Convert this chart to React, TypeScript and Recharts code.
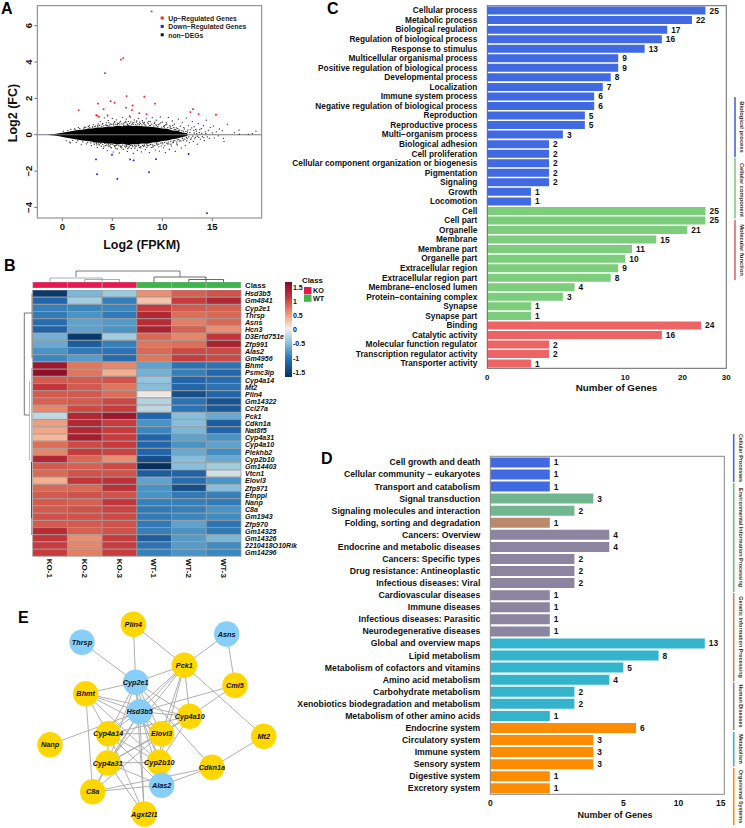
import React from "react";
import {
  Area,
  Bar,
  BarChart,
  Cell,
  ComposedChart,
  LabelList,
  ReferenceLine,
  Scatter,
  ScatterChart,
  XAxis,
  YAxis,
} from "recharts";

const FONT = "'Liberation Sans', Arial, sans-serif";

// ---- panel A: MA plot
const coreX = [-1.4, -0.8, -0.3, 0.3, 1, 1.6, 2, 2.6, 3, 3.5, 4, 4.6, 5, 5.5, 6, 6.6, 7, 7.5, 8, 8.5, 9, 9.5, 10, 10.5, 11, 11.5, 12, 12.5];
const coreHigh = [0.02, 0.04, 0.08, 0.14, 0.2, 0.26, 0.28, 0.34, 0.34, 0.4, 0.4, 0.46, 0.44, 0.5, 0.47, 0.52, 0.48, 0.5, 0.47, 0.46, 0.42, 0.4, 0.34, 0.33, 0.24, 0.22, 0.12, 0.08];
const coreLow = [-0.02, -0.04, -0.08, -0.15, -0.22, -0.27, -0.32, -0.35, -0.38, -0.44, -0.44, -0.49, -0.48, -0.53, -0.5, -0.56, -0.52, -0.52, -0.48, -0.49, -0.42, -0.41, -0.35, -0.32, -0.25, -0.21, -0.13, -0.07];
const upGenes = [
  [8.93, 6.79], [6.1, 4.22], [5.87, 4.13], [4.27, 3.39], [6.43, 2.13], [8.2, 2.09], [4.83, 1.85], [5.23, 1.76], [3.57, 1.71],
  [9.27, 1.71], [7.03, 1.61], [6.37, 1.49], [4.13, 1.41], [13.07, 1.41], [1.63, 1.36], [6.97, 1.36], [12.8, 1.25], [7.7, 1.19],
  [8.43, 1.14], [13.63, 1.14], [15.37, 1.1], [3.4, 1.08], [3.47, 1.05], [4.53, 1.06], [3.67, 0.99], [6.73, 1.03],
];
const downGenes = [
  [3.37, -1.36], [4.97, -1.1], [6.77, -1.36], [7.13, -1.41], [9.37, -1.34], [12.63, -1.06], [3.47, -2.17], [5.5, -2.42], [8.67, -2.06], [14.47, -4.31],
];
const otherGenes = [
  [0.1, 0.2], [0.4, -0.33], [0.8, -0.45], [0.7, -0.4], [1.2, 0.33], [1.4, -0.42], [1.6, 0.4], [1.9, -0.55], [2.2, 0.42], [2.4, -0.5],
  [2.6, 0.45], [2.7, 0.5], [2.9, -0.6], [3.1, 0.55], [3.2, -0.52], [3.3, 0.47], [3.5, -0.7], [3.6, 0.6], [3.7, -0.56], [3.8, 0.72],
  [3.9, -0.63], [4.0, 0.58], [4.1, -0.75], [4.2, 0.93], [4.3, -0.6], [4.4, 0.66], [4.5, -0.88], [4.6, 0.78], [4.7, -0.62], [4.8, 0.6],
  [4.9, -0.72], [5.0, 0.9], [5.1, -0.95], [5.2, 0.68], [5.3, -0.6], [5.4, 0.82], [5.5, -0.78], [5.6, 0.62], [5.7, -1.0], [5.8, 0.74],
  [5.9, -0.64], [6.0, 0.95], [6.1, -0.8], [6.2, 0.66], [6.3, -0.68], [6.4, 0.86], [6.5, -0.92], [6.6, 0.72], [6.7, -0.62], [6.8, 0.97],
  [6.9, -0.75], [7.0, 0.64], [7.1, -1.02], [7.2, 0.82], [7.3, -0.66], [7.4, 0.7], [7.5, -0.86], [7.6, 0.9], [7.7, -0.7], [7.8, 0.62],
  [7.9, -0.94], [8.0, 0.78], [8.1, -0.64], [8.2, 0.68], [8.3, -0.82], [8.4, 0.88], [8.5, -0.6], [8.6, 0.6], [8.7, -0.98], [8.8, 0.72],
  [8.9, -0.7], [9.0, 0.94], [9.1, -0.62], [9.2, 0.62], [9.3, -0.84], [9.4, 0.8], [9.5, -0.56], [9.6, 0.56], [9.7, -0.9], [9.8, 0.98],
  [9.9, -0.62], [10.0, 0.7], [10.1, -0.72], [10.2, 0.5], [10.3, -0.98], [10.4, 0.66], [10.5, -0.5], [10.6, 0.96], [10.7, -0.8], [10.8, 0.44],
  [10.9, -0.62], [11.0, 0.76], [11.1, -0.42], [11.2, 0.58], [11.3, -0.92], [11.4, 0.38], [11.5, -0.56], [11.6, 0.86], [11.7, -0.34], [11.8, 0.48],
  [11.9, -0.72], [12.0, 0.66], [12.1, -0.3], [12.2, 0.32], [12.3, -0.6], [12.4, 0.92], [12.5, -0.22], [12.6, 0.5], [12.7, -0.44], [12.8, 0.28],
  [12.9, -0.18], [13.0, 0.72], [13.1, -0.36], [13.2, 0.44], [13.3, -0.14], [13.4, 0.2], [13.5, -0.52], [13.6, 0.62], [13.7, 0.12], [13.8, -0.24],
  [13.9, 0.34], [14.0, -0.1], [14.1, 0.5], [14.2, -0.32], [14.3, 0.16], [14.4, 0.8], [14.5, -0.12], [14.6, 0.24], [14.7, -0.2], [14.8, 0.4],
  [15.0, 0.1], [15.1, 0.48], [15.2, -0.18], [15.4, 0.16], [15.6, -0.06], [15.7, 0.32], [16.0, 0.22], [16.1, -0.2], [16.17, -0.37], [16.5, 0.57],
  [17.2, 0.11], [17.67, 0.26], [17.7, 0.03], [19.0, 0.07], [19.37, 0.2], [18.6, 0.02],
  [3.0, 0.44], [4.4, 0.52], [5.1, 0.6], [5.5, 0.56], [6.1, 0.6], [6.5, 0.58], [7.1, 0.58], [7.7, 0.56], [8.2, 0.55], [8.8, 0.52], [9.4, 0.5],
  [4.6, -0.55], [5.2, -0.6], [5.8, -0.62], [6.4, -0.6], [7.0, -0.6], [7.6, -0.6], [8.2, -0.56], [8.8, -0.54], [9.4, -0.5], [10.0, -0.44], [10.6, -0.4],
  [10.2, 0.42], [10.8, 0.36], [11.2, 0.3], [11.6, 0.24], [12.1, 0.2], [12.5, 0.14], [11.1, -0.34], [11.5, -0.28], [12.0, -0.22], [12.4, -0.16], [13.2, 0.1], [13.5, -0.08],
  // fringe hugging the dense cloud
  [0.55, 0.24], [0.85, 0.3], [1.05, -0.31], [1.3, 0.28], [1.55, -0.33], [1.75, 0.34], [2.05, -0.39], [2.15, 0.36], [2.35, 0.41], [2.55, -0.42], [2.75, 0.39],
  [2.85, -0.45], [3.05, 0.42], [3.15, -0.41], [3.25, 0.44], [3.4, -0.47], [3.55, 0.47], [3.65, -0.5], [3.75, 0.52], [3.85, -0.47], [3.95, 0.46], [4.05, -0.53],
  [4.15, 0.49], [4.25, -0.48], [4.35, 0.55], [4.45, -0.57], [4.55, 0.51], [4.65, -0.62], [4.75, 0.53], [4.85, -0.54], [4.95, 0.57], [5.05, -0.52], [5.15, 0.54],
  [5.25, -0.65], [5.35, 0.58], [5.45, -0.57], [5.55, 0.64], [5.65, -0.6], [5.75, 0.55], [5.85, -0.68], [5.95, 0.6], [6.05, -0.57], [6.15, 0.52], [6.25, -0.62],
  [6.35, 0.66], [6.45, -0.64], [6.55, 0.56], [6.65, -0.7], [6.75, 0.61], [6.85, -0.6], [6.95, 0.55], [7.05, -0.66], [7.15, 0.68], [7.25, -0.58], [7.35, 0.56],
  [7.45, -0.62], [7.55, 0.6], [7.65, -0.56], [7.75, 0.7], [7.85, -0.65], [7.95, 0.54], [8.05, -0.58], [8.15, 0.62], [8.25, -0.62], [8.35, 0.53], [8.45, -0.55],
  [8.55, 0.66], [8.65, -0.6], [8.75, 0.5], [8.85, -0.52], [8.95, 0.58], [9.05, -0.56], [9.15, 0.48], [9.25, -0.6], [9.35, 0.55], [9.45, -0.48], [9.55, 0.45],
  [9.65, -0.52], [9.75, 0.6], [9.85, -0.46], [9.95, 0.42], [10.05, -0.5], [10.15, 0.46], [10.25, -0.42], [10.35, 0.54], [10.45, -0.46], [10.55, 0.4], [10.65, -0.5],
  [10.75, 0.5], [10.85, -0.36], [10.95, 0.34], [11.05, -0.44], [11.15, 0.4], [11.25, -0.32], [11.35, 0.28], [11.45, -0.4], [11.55, 0.34], [11.65, -0.26], [11.75, 0.26],
  [11.85, -0.34], [11.95, 0.22], [12.05, -0.18], [12.15, 0.4], [12.25, -0.24], [12.35, 0.18], [12.45, -0.34], [12.55, 0.26], [12.65, -0.12], [12.75, 0.12],
  [12.85, -0.26], [12.95, 0.38], [13.05, -0.08], [13.15, 0.24], [13.25, -0.22], [13.35, 0.3], [13.45, 0.06], [13.65, -0.14], [13.75, 0.28], [13.95, 0.08], [14.15, -0.16], [14.35, 0.06],
  [3.55, 0.53], [4.05, 0.62], [4.65, 0.66], [5.25, 0.73], [5.75, 0.66], [6.35, 0.74], [6.85, 0.71], [7.45, 0.76], [8.05, 0.69], [8.65, 0.74], [9.25, 0.7], [9.85, 0.66], [10.45, 0.58], [11.05, 0.5],
  [3.45, -0.56], [4.15, -0.66], [4.85, -0.68], [5.35, -0.74], [5.95, -0.72], [6.55, -0.76], [7.25, -0.74], [7.85, -0.72], [8.45, -0.7], [9.05, -0.68], [9.65, -0.66], [10.25, -0.6], [10.85, -0.52], [11.45, -0.5],
];

// ---- panel B: heatmap
const genes = [
  "Hsd3b5", "Gm4841", "Cyp2e1", "Thrsp", "Asns", "Hcn3", "D3Ertd751e", "Zfp991", "Alas2", "Gm4956", "Bhmt", "Psmc3ip", "Cyp4a14",
  "Mt2", "Plin4", "Gm14322", "Ccl27a", "Pck1", "Cdkn1a", "Nat8f5", "Cyp4a31", "Cyp4a10", "Plekhb2", "Cyp2b10", "Gm14403", "Vtcn1",
  "Elovl3", "Zfp971", "Etnppl", "Nanp", "C8a", "Gm1943", "Zfp970", "Gm14325", "Gm14326", "2210418O10Rik", "Gm14296",
];
const samples = ["KO-1", "KO-2", "KO-3", "WT-1", "WT-2", "WT-3"];
const heat = [
  [-1.7, -0.6, -0.45, 0.65, 0.95, 1.05],
  [-1.2, -0.4, -1.0, 0.3, 1.2, 1.4],
  [-1.0, -0.95, -0.95, 1.2, 1.0, 0.95],
  [-1.05, -0.85, -1.05, 1.4, 0.85, 0.9],
  [-1.15, -0.75, -0.8, 1.35, 0.75, 0.9],
  [-1.25, -0.75, -0.85, 1.45, 0.95, 0.65],
  [-0.65, -1.7, -0.4, 0.9, 0.7, 1.25],
  [-0.7, -1.3, -1.0, 0.8, 0.85, 1.45],
  [-0.85, -1.05, -1.1, 0.9, 1.1, 1.1],
  [-0.95, -0.8, -1.15, 0.8, 1.2, 1.1],
  [1.55, 0.8, 0.7, -0.75, -1.1, -1.1],
  [1.65, 0.8, 0.45, -0.65, -1.0, -1.2],
  [1.0, 1.0, 1.05, -0.5, -1.2, -1.15],
  [1.25, 1.0, 0.8, -0.55, -1.2, -1.1],
  [1.0, 1.0, 0.85, 0.0, -1.45, -1.2],
  [0.95, 1.0, 1.1, -0.3, -1.1, -1.4],
  [0.7, 1.1, 1.2, -0.25, -1.1, -1.35],
  [-0.25, 1.4, 1.55, -1.2, -0.55, -0.7],
  [0.55, 1.4, 1.2, -0.85, -0.55, -1.3],
  [0.5, 1.4, 1.2, -0.95, -0.6, -1.2],
  [0.4, 1.5, 1.2, -1.2, -0.75, -0.85],
  [0.85, 1.1, 1.2, -1.2, -0.85, -0.75],
  [0.7, 1.2, 1.15, -1.2, -0.7, -0.9],
  [1.4, 0.9, 0.65, -1.45, -0.55, -0.7],
  [1.0, 0.95, 1.1, -1.8, -0.55, -0.4],
  [0.9, 1.05, 1.05, -1.3, -1.25, -0.15],
  [0.45, 1.25, 1.3, -0.75, -1.15, -0.85],
  [0.9, 0.9, 1.3, -0.85, -1.45, -0.55],
  [1.0, 1.05, 1.05, -0.85, -1.05, -1.0],
  [1.0, 0.95, 1.25, -1.0, -1.0, -1.05],
  [1.0, 1.05, 1.15, -1.05, -1.0, -0.85],
  [1.05, 1.05, 1.1, -1.05, -0.95, -0.9],
  [1.0, 1.0, 1.05, -1.05, -0.75, -1.1],
  [1.35, 0.95, 1.05, -1.0, -0.85, -1.05],
  [1.25, 0.65, 1.2, -1.3, -0.8, -0.6],
  [1.2, 0.7, 1.2, -1.1, -0.8, -0.9],
  [1.2, 0.75, 1.2, -1.0, -0.85, -0.95],
];
const colorbarTicks = [1.5, 1, 0.5, 0, -0.5, -1, -1.5];

// ---- panel C: GO terms
const goTerms = [
  "Cellular process", "Metabolic process", "Biological regulation", "Regulation of biological process", "Response to stimulus",
  "Multicellular organismal process", "Positive regulation of biological process", "Developmental process", "Localization",
  "Immune system process", "Negative regulation of biological process", "Reproduction", "Reproductive process", "Multi\u2212organism process",
  "Biological adhesion", "Cell proliferation", "Cellular component organization or biogenesis", "Pigmentation", "Signaling", "Growth", "Locomotion",
  "Cell", "Cell part", "Organelle", "Membrane", "Membrane part", "Organelle part", "Extracellular region", "Extracellular region part",
  "Membrane\u2212enclosed lumen", "Protein\u2212containing complex", "Synapse", "Synapse part",
  "Binding", "Catalytic activity", "Molecular function regulator", "Transcription regulator activity", "Transporter activity",
];
const goCounts = [25, 22, 17, 16, 13, 9, 9, 8, 7, 6, 6, 5, 5, 3, 2, 2, 2, 2, 2, 1, 1, 25, 25, 21, 15, 11, 10, 9, 8, 4, 3, 1, 1, 24, 16, 2, 2, 1];
const goGroupSizes = [21, 12, 5];
const goColors = ["#4169E1", "#7CCD7C", "#EE6363"];

// ---- panel D: KEGG pathways
const keggTerms = [
  "Cell growth and death", "Cellular community \u2212 eukaryotes", "Transport and catabolism", "Signal transduction",
  "Signaling molecules and interaction", "Folding, sorting and degradation", "Cancers: Overview", "Endocrine and metabolic diseases",
  "Cancers: Specific types", "Drug resistance: Antineoplastic", "Infectious diseases: Viral", "Cardiovascular diseases", "Immune diseases",
  "Infectious diseases: Parasitic", "Neurodegenerative diseases", "Global and overview maps", "Lipid metabolism",
  "Metabolism of cofactors and vitamins", "Amino acid metabolism", "Carbohydrate metabolism", "Xenobiotics biodegradation and metabolism",
  "Metabolism of other amino acids", "Endocrine system", "Circulatory system", "Immune system", "Sensory system", "Digestive system", "Excretory system",
];
const keggCounts = [1, 1, 1, 3, 2, 1, 4, 4, 2, 2, 2, 1, 1, 1, 1, 13, 8, 5, 4, 2, 2, 1, 6, 3, 3, 3, 1, 1];
const keggGroupSizes = [3, 2, 1, 9, 7, 6];
const keggColors = ["#4169E1", "#70B78F", "#BC8A6A", "#8B859F", "#33B3CC", "#FF8C00"];

// ---- panel E: network
const nodeNames = [
  "Plin4", "Thrsp", "Asns", "Pck1", "Cyp2e1", "Cml5", "Bhmt", "Hsd3b5", "Cyp4a10", "Cyp4a14", "Elovl3", "Nanp", "Mt2", "Cyp4a31",
  "Cyp2b10", "Cdkn1a", "Alas2", "C8a", "Agxt2l1",
];
const nodeX = [133.3, 82, 226.7, 184.3, 135.7, 235, 85.7, 139.7, 189.7, 108.3, 161.7, 50, 263.7, 107.7, 159.3, 212, 161.7, 92.7, 144.3];
const nodeY = [624.3, 642.3, 634, 665.3, 682.3, 685.3, 693.7, 711.7, 716.3, 733.7, 733.7, 744.7, 736.3, 763, 762.3, 767.3, 785.3, 791.7, 814];
const blueNodes = ["Thrsp", "Asns", "Cyp2e1", "Hsd3b5", "Alas2"];
const edges = [
  "Thrsp-Cyp2e1", "Plin4-Cyp2e1", "Plin4-Pck1", "Asns-Pck1", "Asns-Cml5", "Pck1-Mt2", "Pck1-Cyp2e1", "Pck1-Hsd3b5", "Pck1-Cyp4a10", "Pck1-Elovl3",
  "Pck1-Cyp4a14", "Pck1-Cyp4a31", "Pck1-Cyp2b10", "Cml5-Cyp4a10", "Cml5-Hsd3b5", "Bhmt-Cyp2e1", "Bhmt-Hsd3b5", "Bhmt-C8a", "Bhmt-Cyp4a14",
  "Bhmt-Cyp4a10", "Bhmt-Elovl3", "Bhmt-Cyp2b10", "Nanp-Hsd3b5", "Cyp2e1-Hsd3b5", "Cyp2e1-Cdkn1a", "Cyp2e1-Cyp4a14", "Cyp2e1-Cyp4a31",
  "Cyp2e1-Cyp4a10", "Cyp2e1-Elovl3", "Cyp2e1-Cyp2b10", "Cyp2e1-Agxt2l1", "Hsd3b5-Cyp4a10", "Hsd3b5-Cyp4a14", "Hsd3b5-Cyp4a31", "Hsd3b5-Elovl3",
  "Hsd3b5-Cyp2b10", "Hsd3b5-Alas2", "Hsd3b5-Agxt2l1", "Hsd3b5-C8a", "Cyp4a10-Cyp4a14", "Cyp4a10-Cyp4a31", "Cyp4a10-Cyp2b10", "Cyp4a10-Elovl3",
  "Cyp4a14-Elovl3", "Cyp4a14-Cyp4a31", "Cyp4a14-Cyp2b10", "Cyp4a14-Alas2", "Cyp4a14-Agxt2l1", "Cyp4a31-Elovl3", "Cyp4a31-Cyp2b10", "Cyp4a31-C8a",
  "Cyp4a31-Alas2", "Cyp4a31-Agxt2l1", "Elovl3-Cyp2b10", "Elovl3-C8a", "Cdkn1a-Mt2", "Cdkn1a-Alas2", "Cdkn1a-C8a", "Alas2-C8a",
];

// side brackets and dendrogram lines are annotation, not data marks
const goBrackets = [
  { label: "Biological process", y1: 97, y2: 157, color: "#4169E1", cy: 127 },
  { label: "Cellular component", y1: 158, y2: 218.5, color: "#7CCD7C", cy: 190 },
  { label: "Molecular function", y1: 220, y2: 280, color: "#EE6363", cy: 250 },
];
const keggBrackets = [
  { label: "Cellular Processes", y1: 434, y2: 482, color: "#4169E1", cy: 458 },
  { label: "Environmental Information Processing", y1: 483, y2: 592, color: "#70B78F", cy: 537.5 },
  { label: "Genetic Information Processing", y1: 593, y2: 681.5, color: "#BC8A6A", cy: 637 },
  { label: "Human Diseases", y1: 682.5, y2: 730, color: "#8B859F", cy: 706 },
  { label: "Metabolism", y1: 732, y2: 766.5, color: "#33B3CC", cy: 749 },
  { label: "Organismal Systems", y1: 768, y2: 825, color: "#FF8C00", cy: 796.5 },
];
const dendroPaths = [
  { d: "M50 282V278H102V282M84.7 282V279.5H119.4V282", stroke: "#999" },
  { d: "M154 282V277H206V282M188.8 282V279.5H223.5V282", stroke: "#444" },
  { d: "M76 277V271H180V277", stroke: "#555" },
  { d: "M32 313H24.3V415H29.5", stroke: "#555" },
  { d: "M32 293V358", stroke: "#77685f" },
  { d: "M31.5 368V462M29.5 381V460", stroke: "#aaa" },
  { d: "M31.5 462V518", stroke: "#222" },
  { d: "M31.5 518V535", stroke: "#888" },
];

const hexToRgb = (h: string) => [1, 3, 5].map((i) => parseInt(h.slice(i, i + 2), 16));
const heatStops: [number, string][] = [
  [-1.8, "#053061"],
  [-1.2, "#2166ac"],
  [-0.9, "#3f8dc3"],
  [-0.5, "#92c5de"],
  [0, "#eee8e4"],
  [0.4, "#f7b799"],
  [0.8, "#e0775c"],
  [1.2, "#c93a3c"],
  [1.8, "#800022"],
];
const heatColor = (v: number) => {
  for (let i = 1; i < heatStops.length; i++) {
    if (v <= heatStops[i][0]) {
      const [a, ca] = heatStops[i - 1];
      const [b, cb] = heatStops[i];
      const t = Math.max(0, (v - a) / (b - a));
      const A = hexToRgb(ca);
      const B = hexToRgb(cb);
      return `rgb(${A.map((c, k) => Math.round(c + (B[k] - c) * t)).join(",")})`;
    }
  }
  return heatStops[heatStops.length - 1][1];
};

const toPoints = (pairs: number[][]) => pairs.map(([x, y]) => ({ x, y }));
const coreData = coreX.map((x, i) => ({ x, band: [coreLow[i], coreHigh[i]] }));
const heatRows = genes.map((gene) => ({ gene, c0: 1, c1: 1, c2: 1, c3: 1, c4: 1, c5: 1 }));
const classRow = [{ gene: "Class", c0: 1, c1: 1, c2: 1, c3: 1, c4: 1, c5: 1 }];
const columns = ["c0", "c1", "c2", "c3", "c4", "c5"];
const nodes = nodeNames.map((name, i) => ({ name, x: nodeX[i], y: nodeY[i] }));
const nodeByName = (name: string) => nodes.find((n) => n.name === name);

const groupColor = (index: number, sizes: number[], colors: string[]) => {
  let end = 0;
  for (let g = 0; g < sizes.length; g++) {
    end += sizes[g];
    if (index < end) return colors[g];
  }
  return colors[colors.length - 1];
};

const dot = (fill: string, size: number) => (p: any) =>
  <rect x={p.cx - size / 2} y={p.cy - size / 2} width={size} height={size} rx={size / 3} fill={fill} />;

const NetworkNode = (p: any) => {
  const blue = blueNodes.includes(p.payload.name);
  return (
    <g>
      <circle cx={p.cx} cy={p.cy} r={12.7} fill={blue ? "#87CEFA" : "#FFD700"} />
      <text x={p.cx} y={p.cy + 2.6} textAnchor="middle" fontFamily={FONT} fontSize={7.3} fontWeight="bold" fontStyle="italic" fill="#111">
        {p.payload.name}
      </text>
    </g>
  );
};

const boldTick = (size: number) => ({ fontFamily: FONT, fontSize: size, fontWeight: "bold", fill: "#111" });

// plain <text> ticks: the default tick wraps long names over two lines
const TermTick = (font: number) => (p: any) => (
  <text x={p.x} y={p.y + font * 0.35} textAnchor="end" {...boldTick(font)}>
    {p.payload.value}
  </text>
);
const GeneTick = (p: any) => (
  <text x={245} y={p.y + 2.6} fontStyle="italic" {...boldTick(7.1)}>
    {p.payload.value}
  </text>
);

const TermChart = ({ left, top, width, height, terms, counts, sizes, colors, domain, ticks, axisWidth, font, numberFont, plotTop, bottom }: any) => {
  const data = terms.map((term: string, i: number) => ({ term, count: counts[i] }));
  return (
    <div style={{ position: "absolute", left, top }}>
      <BarChart width={width} height={height} data={data} layout="vertical" barCategoryGap="9%" margin={{ top: plotTop, right: 14, bottom: 0, left: 0 }}>
        <XAxis type="number" scale="sqrt" domain={domain} ticks={ticks} height={bottom} axisLine={false} tickLine={false} tick={boldTick(numberFont)} tickMargin={0} interval={0} />
        <YAxis type="category" dataKey="term" width={axisWidth} axisLine={false} tickLine={false} tick={TermTick(font)} tickMargin={4} interval={0} />
        <Bar dataKey="count" isAnimationActive={false}>
          {data.map((d: any, i: number) => (
            <Cell key={d.term} fill={groupColor(i, sizes, colors)} />
          ))}
          <LabelList dataKey="count" position="right" offset={4} style={boldTick(8.4)} />
        </Bar>
      </BarChart>
    </div>
  );
};

const sideLabels = (brackets: any[], lineX: number, textX: number, size: number) =>
  brackets.map((b) => (
    <g key={b.label}>
      <line x1={lineX} x2={lineX} y1={b.y1} y2={b.y2} stroke={b.color} strokeWidth={1.6} />
      <text transform={`translate(${textX} ${b.cy}) rotate(90)`} textAnchor="middle" fontFamily={FONT} fontSize={size} fontWeight="bold" fill="#333">
        {b.label}
      </text>
    </g>
  ));

const letter = (t: string, x: number, y: number) => (
  <text x={x} y={y} fontFamily={FONT} fontSize={16} fontWeight="bold" fill="#000">
    {t}
  </text>
);

export default function App() {
  return (
    <div style={{ position: "absolute", left: 0, top: 0, width: 745, height: 828, background: "#fff", overflow: "hidden" }}>
      {/* A */}
      <div style={{ position: "absolute", left: 0, top: 0 }}>
        <ComposedChart width={275} height={238} data={coreData} margin={{ top: 5.7, right: 13.3, bottom: 0, left: 0 }}>
          <XAxis dataKey="x" type="number" domain={[-2.5, 19.94]} ticks={[0, 5, 10, 15]} height={20} axisLine={false} tickSize={3} stroke="#777" tick={boldTick(9.5)} allowDataOverflow />
          <YAxis
            type="number"
            domain={[-4.58, 7.1]}
            ticks={[-4, -2, 0, 2, 4, 6]}
            width={37.3}
            axisLine={false}
            tickSize={3}
            tickMargin={6}
            stroke="#777"
            angle={-90}
            tick={{ ...boldTick(9.5), textAnchor: "middle" }}
            tickFormatter={(v: number) => String(v).replace("-", "\u2212")}
            allowDataOverflow
          />
          <ReferenceLine y={0} stroke="#777" strokeWidth={1} />
          <Area dataKey="band" type="linear" stroke="none" fill="#000" fillOpacity={1} isAnimationActive={false} dot={false} activeDot={false} />
          <Scatter data={toPoints(otherGenes)} dataKey="y" shape={dot("#222", 1.2)} isAnimationActive={false} />
          <Scatter data={toPoints(upGenes)} dataKey="y" shape={dot("#ff2020", 1.8)} isAnimationActive={false} />
          <Scatter data={toPoints(downGenes)} dataKey="y" shape={dot("#2020ff", 1.8)} isAnimationActive={false} />
        </ComposedChart>
      </div>

      {/* B */}
      <div style={{ position: "absolute", left: 0, top: 282 }}>
        <BarChart width={320} height={5.6} data={classRow} layout="vertical" barCategoryGap={0} margin={{ top: 0, right: 0, bottom: 0, left: 32.7 }}>
          <XAxis type="number" domain={[0, 6]} hide />
          <YAxis type="category" dataKey="gene" orientation="right" width={79} axisLine={false} tickLine={false} tick={false} />
          {columns.map((c, j) => (
            <Bar key={c} dataKey={c} stackId="row" fill={j < 3 ? "#E8174F" : "#3CB54A"} stroke="#aaa" strokeWidth={0.6} isAnimationActive={false} />
          ))}
        </BarChart>
      </div>
      <div style={{ position: "absolute", left: 0, top: 289.7 }}>
        <BarChart width={320} height={292} data={heatRows} layout="vertical" barCategoryGap={0} margin={{ top: 0, right: 0, bottom: 0, left: 32.7 }}>
          <XAxis
            type="number"
            domain={[0, 6]}
            ticks={[0.5, 1.5, 2.5, 3.5, 4.5, 5.5]}
            height={25.6}
            interval={0}
            axisLine={false}
            tickLine={false}
            tick={(p: any) => (
              <text transform={`translate(${p.x - 2.8} ${268.8}) rotate(90)`} {...boldTick(8)}>
                {samples[Math.floor(p.payload.value)]}
              </text>
            )}
          />
          <YAxis type="category" dataKey="gene" orientation="right" width={79} interval={0} axisLine={false} tickLine={false} tick={GeneTick} />
          {columns.map((c, j) => (
            <Bar key={c} dataKey={c} stackId="row" stroke="#999" strokeWidth={0.7} isAnimationActive={false}>
              {heatRows.map((r, i) => (
                <Cell key={r.gene} fill={heatColor(heat[i][j])} />
              ))}
            </Bar>
          ))}
        </BarChart>
      </div>
      <div
        style={{
          position: "absolute",
          left: 285,
          top: 281.7,
          width: 6.7,
          height: 95,
          background: `linear-gradient(to bottom, #7d0a2a 0%, #c93a3c 17%, #f4a582 36%, #f2efec 49%, #92c5de 63%, #2b78b6 80%, #053061 100%)`,
        }}
      />

      {/* C and D */}
      <TermChart left={280} top={0} width={460.3} height={385} terms={goTerms} counts={goCounts} sizes={goGroupSizes} colors={goColors} domain={[0, 30]} ticks={[0, 10, 20, 30]} axisWidth={207.3} font={8.3} numberFont={8} plotTop={5.7} bottom={16.7} />
      <TermChart left={280} top={440} width={458.3} height={372} terms={keggTerms} counts={keggCounts} sizes={keggGroupSizes} colors={keggColors} domain={[0, 15.47]} ticks={[0, 5, 10, 15]} axisWidth={210.3} font={8.7} numberFont={8.5} plotTop={16.3} bottom={17.7} />

      {/* E */}
      <div style={{ position: "absolute", left: 0, top: 570 }}>
        <ScatterChart width={300} height={258} margin={{ top: 0, right: 0, bottom: 0, left: 0 }}>
          <XAxis type="number" dataKey="x" domain={[0, 300]} hide />
          <YAxis type="number" dataKey="y" domain={[570, 828]} reversed hide />
          {edges.map((e) => {
            const [a, b] = e.split("-");
            return (
              <Scatter
                key={e}
                data={[nodeByName(a), nodeByName(b)]}
                line={{ stroke: "#a8a8a8", strokeWidth: 0.9 }}
                shape={() => <g />}
                isAnimationActive={false}
              />
            );
          })}
          <Scatter data={nodes} shape={NetworkNode} isAnimationActive={false} />
        </ScatterChart>
      </div>

      {/* frames, labels and annotation */}
      <svg width={745} height={828} style={{ position: "absolute", left: 0, top: 0, pointerEvents: "none" }}>
        {letter("A", 1, 14)}
        {letter("B", 4, 271)}
        {letter("C", 327, 14)}
        {letter("D", 321, 464)}
        {letter("E", 18, 623)}

        <rect x={37.3} y={5.7} width={224.4} height={212.3} fill="none" stroke="#808080" strokeWidth={1} />
        <text x={141.7} y={249} textAnchor="middle" fontFamily={FONT} fontSize={12.5} fontWeight="bold" fill="#111">Log2 (FPKM)</text>
        <text transform="translate(16.5 113) rotate(-90)" textAnchor="middle" fontFamily={FONT} fontSize={12.5} fontWeight="bold" fill="#111">Log2 (FC)</text>
        {[["Up\u2212Regulated Genes", "#ff2020"], ["Down\u2212Regulated Genes", "#2020ff"], ["non\u2212DEGs", "#111"]].map(([t, c], i) => (
          <g key={t}>
            <rect x={160.7} y={16.5 + i * 8.4} width={3} height={3} fill={c} />
            <text x={168.3} y={20.7 + i * 8.4} fontFamily={FONT} fontSize={6.8} fontWeight="bold" fill="#222">{t}</text>
          </g>
        ))}

        {dendroPaths.map((p) => (
          <path key={p.d} d={p.d} fill="none" stroke={p.stroke} strokeWidth={0.8} />
        ))}
        <text x={245} y={287.7} fontFamily={FONT} fontSize={7.8} fontWeight="bold" fill="#111">Class</text>
        {colorbarTicks.map((v, i) => (
          <text key={v} x={293} y={289.5 + i * 14.2} fontFamily={FONT} fontSize={7} fontWeight="bold" fill="#111">
            {v}
          </text>
        ))}
        <text x={302} y={282.5} fontFamily={FONT} fontSize={7.8} fontWeight="bold" fill="#111">Class</text>
        <rect x={304} y={287} width={7.5} height={7.2} fill="#E8174F" />
        <rect x={304} y={294.6} width={7.5} height={7.2} fill="#3CB54A" />
        <text x={313} y={293} fontFamily={FONT} fontSize={7.2} fontWeight="bold" fill="#111">KO</text>
        <text x={313} y={300.6} fontFamily={FONT} fontSize={7.2} fontWeight="bold" fill="#111">WT</text>

        <rect x={487.3} y={5.7} width={239} height={362.6} fill="none" stroke="#666" strokeWidth={1} />
        <text x={616.5} y={390.5} textAnchor="middle" fontFamily={FONT} fontSize={9.8} fontWeight="bold" fill="#111">Number of Genes</text>
        {sideLabels(goBrackets, 735, 739.5, 5.8)}

        <rect x={490.3} y={456.3} width={234} height={338} fill="none" stroke="#888" strokeWidth={1} />
        <text x={615} y={818} textAnchor="middle" fontFamily={FONT} fontSize={9} fontWeight="bold" fill="#111">Number of Genes</text>
        {sideLabels(keggBrackets, 733.7, 738.5, 5.4)}
      </svg>
    </div>
  );
}
